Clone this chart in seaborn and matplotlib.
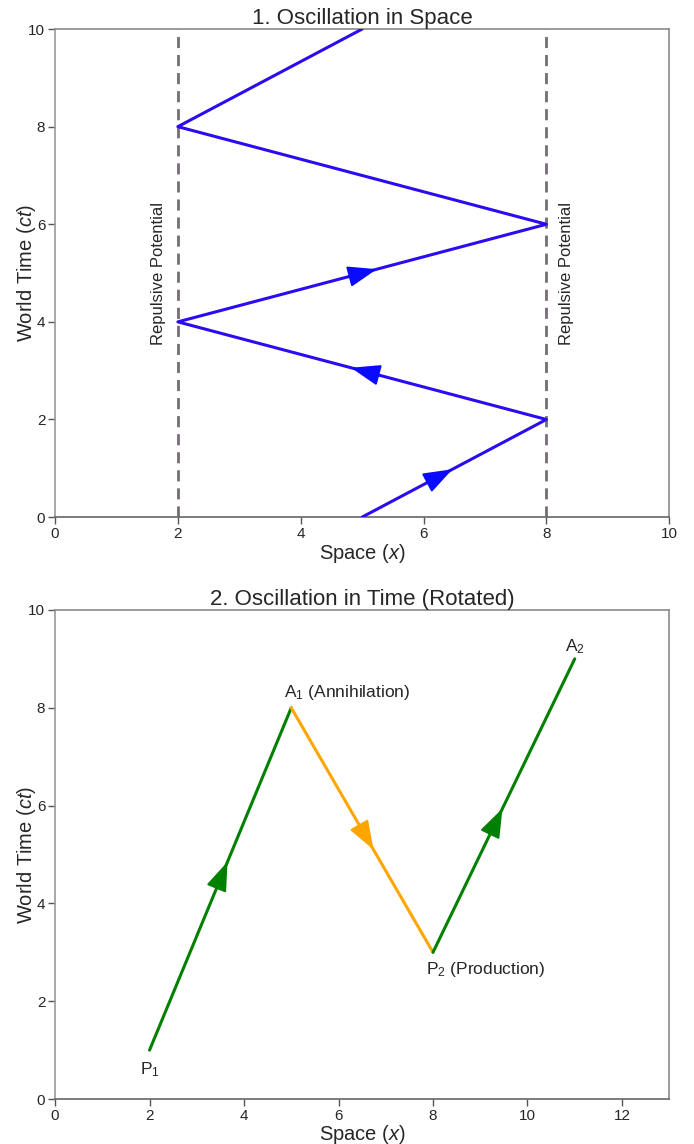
import numpy as np
import matplotlib
matplotlib.use('Agg')
import matplotlib.pyplot as plt
import seaborn as sns

# dados do painel 1 (oscilação no espaço)
x_espaco = [5, 8, 2, 8, 2, 5]
t_espaco = [0, 2, 4, 6, 8, 10]
paredes = [2, 8]
setas_espaco = [0, 1, 2]  # segmentos com seta

# dados do painel 2 (oscilação no tempo)
x_tempo = [2, 5, 8, 11]
t_tempo = [1, 8, 3, 9]
cores_tempo = ['green', 'orange', 'green']
rotulos = ['$\\mathregular{P_1}$', '$\\mathregular{A_1}$ (Annihilation)',
           '$\\mathregular{P_2}$ (Production)', '$\\mathregular{A_2}$']

sns.set_style('white')
plt.rcParams['font.family'] = ['Liberation Sans', 'DejaVu Sans']
plt.rcParams['mathtext.fontset'] = 'custom'
plt.rcParams['mathtext.rm'] = 'Liberation Sans'
plt.rcParams['mathtext.it'] = 'Liberation Sans:italic'

fig = plt.figure(figsize=(6.94, 11.44), dpi=100)
ax1 = fig.add_axes([0.0793, 0.548, 0.885, 0.4266])
ax2 = fig.add_axes([0.0793, 0.0393, 0.885, 0.4275])

cor_linha = '#2a0cf0'
cor_seta = '#0a0aff'


def seta(ax, x0, y0, x1, y1, cor, frac=0.52):
    xa = x0 + (frac - 0.08) * (x1 - x0)
    ya = y0 + (frac - 0.08) * (y1 - y0)
    xb = x0 + frac * (x1 - x0)
    yb = y0 + frac * (y1 - y0)
    ax.annotate('', xy=(xb, yb), xytext=(xa, ya),
                arrowprops=dict(arrowstyle='-|>,head_length=1.8,head_width=0.65',
                                color=cor, lw=1.5, shrinkA=0, shrinkB=0))


# --- painel 1
for p in paredes:
    ax1.axvline(p, color='#766c76', ls='--', lw=2, dashes=(4, 2.5), zorder=1)
sns.lineplot(x=x_espaco, y=t_espaco, sort=False, estimator=None, ax=ax1,
             color=cor_linha, lw=2.2, zorder=3)
fr1 = [0.49, 0.53, 0.54]
for i in setas_espaco:
    seta(ax1, x_espaco[i], t_espaco[i], x_espaco[i + 1], t_espaco[i + 1], cor_seta, fr1[i])

ax1.text(1.8, 5, 'Repulsive Potential', rotation=90, ha='right', va='center', fontsize=12)
ax1.text(8.2, 5, 'Repulsive Potential', rotation=90, ha='left', va='center', fontsize=12)
ax1.set_xlim(0, 10)
ax1.set_ylim(0, 10)
ax1.set_xticks([0, 2, 4, 6, 8, 10])
ax1.set_yticks([0, 2, 4, 6, 8, 10])
ax1.set_title('1. Oscillation in Space', fontsize=16, pad=3)
ax1.set_xlabel('Space $\\mathit{(x)}$', fontsize=14.5, labelpad=1)
ax1.set_ylabel('World Time $\\mathit{(ct)}$', fontsize=14.5, labelpad=-7)

# --- painel 2
fr2 = [0.55, 0.58, 0.49]
for i in range(3):
    sns.lineplot(x=x_tempo[i:i + 2], y=t_tempo[i:i + 2], sort=False, estimator=None,
                 ax=ax2, color=cores_tempo[i], lw=2.2)
    seta(ax2, x_tempo[i], t_tempo[i], x_tempo[i + 1], t_tempo[i + 1], cores_tempo[i], fr2[i])

ax2.text(x_tempo[0], t_tempo[0] - 0.2, rotulos[0], ha='center', va='top', fontsize=12.5)
ax2.text(x_tempo[1] - 0.15, t_tempo[1] + 0.12, rotulos[1], ha='left', va='bottom', fontsize=12.5)
ax2.text(x_tempo[2] - 0.15, t_tempo[2] - 0.15, rotulos[2], ha='left', va='top', fontsize=12.5)
ax2.text(x_tempo[3], t_tempo[3] + 0.05, rotulos[3], ha='center', va='bottom', fontsize=12.5)
ax2.set_xlim(0, 13)
ax2.set_ylim(0, 10)
ax2.set_xticks([0, 2, 4, 6, 8, 10, 12])
ax2.set_yticks([0, 2, 4, 6, 8, 10])
ax2.set_title('2. Oscillation in Time (Rotated)', fontsize=16, pad=3)
ax2.set_xlabel('Space $\\mathit{(x)}$', fontsize=14.5, labelpad=0)
ax2.set_ylabel('World Time $\\mathit{(ct)}$', fontsize=14.5, labelpad=-7)

for ax in [ax1, ax2]:
    for lado in ['top', 'right']:
        ax.spines[lado].set_color('#8a8a8a')
    ax.spines['left'].set_color('#999999')
    ax.spines['bottom'].set_color('#666666')
    for s in ax.spines.values():
        s.set_linewidth(1.2)
    ax.tick_params(axis='both', which='both', direction='out', length=5, width=1,
                   color='#555555', labelsize=11, bottom=True, left=True, pad=2)

plt.savefig('out.png', dpi=100)
